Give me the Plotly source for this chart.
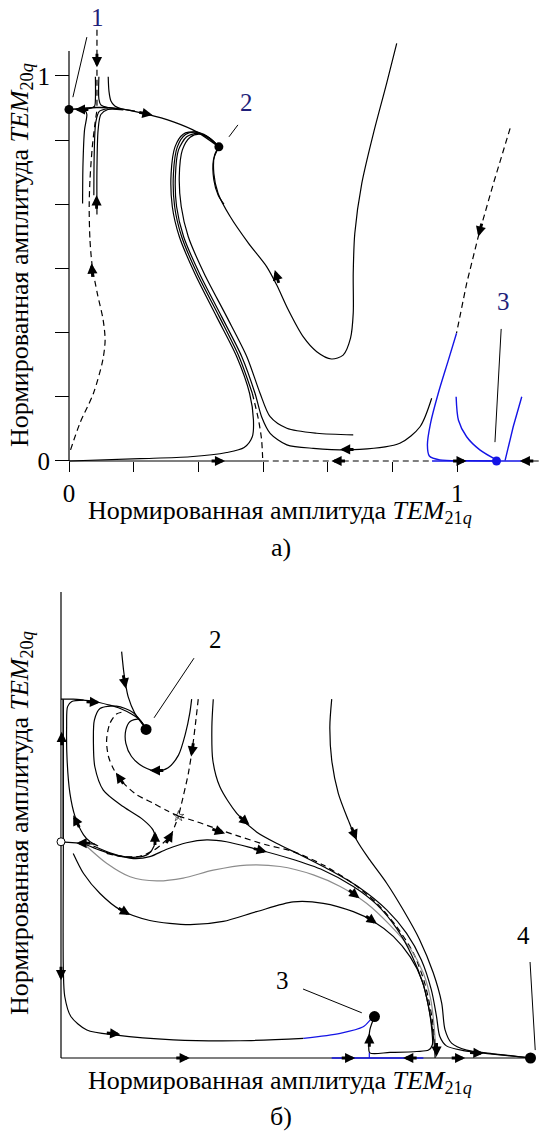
import math
import plotly.graph_objects as go

W, H = 539, 1131
FONT = "Liberation Serif, Times New Roman, serif"
BLUE = "#1414e6"
NAVY = "#1f1f7a"
GRAY = "#8c8c8c"

# ---------------- panel (а): trajectories, normalized amplitudes ----------------
a_plateau_x = [0, 0.071, 0.123, 0.2, 0.269, 0.329, 0.386]
a_plateau_y = [0.913, 0.918, 0.916, 0.901, 0.881, 0.855, 0.816]

a_sep_top_x = [0.072, 0.072, 0.072]
a_sep_top_y = [1.12, 1.0, 0.918]

a_sep_low_x = [0.004, 0.028, 0.063, 0.087, 0.093, 0.088, 0.073, 0.06, 0.054, 0.052, 0.054, 0.06, 0.067, 0.072]
a_sep_low_y = [0.029, 0.098, 0.176, 0.262, 0.314, 0.366, 0.435, 0.505, 0.574, 0.661, 0.73, 0.816, 0.877, 0.912]

a_ul_x = [0.068, 0.068, 0.066, 0.05, 0.03]
a_ul_y = [0.998, 0.94, 0.922, 0.915, 0.913]
a_ur1_x = [0.077, 0.077, 0.082, 0.1, 0.13]
a_ur1_y = [0.998, 0.94, 0.925, 0.918, 0.915]
a_ur2_x = [0.101, 0.103, 0.108, 0.118, 0.135, 0.17]
a_ur2_y = [0.998, 0.96, 0.935, 0.922, 0.915, 0.909]
a_ll_x = [0.035, 0.036, 0.04, 0.046, 0.042, 0.03]
a_ll_y = [0.669, 0.77, 0.86, 0.9, 0.909, 0.912]
a_lr1_x = [0.072, 0.072, 0.075, 0.082, 0.1, 0.14]
a_lr1_y = [0.64, 0.76, 0.86, 0.9, 0.913, 0.912]
a_lr2_x = [0.064, 0.065, 0.069, 0.078, 0.1]
a_lr2_y = [0.69, 0.8, 0.88, 0.908, 0.915]

a_c1_x = [0.386, 0.355, 0.324, 0.294, 0.273, 0.263, 0.266, 0.284, 0.324, 0.38, 0.432, 0.465, 0.475, 0.472, 0.451, 0.406, 0.312, 0.183, 0]
a_c1_y = [0.816, 0.842, 0.855, 0.849, 0.816, 0.747, 0.661, 0.583, 0.487, 0.375, 0.271, 0.176, 0.107, 0.063, 0.035, 0.022, 0.011, 0.006, 0.0]

a_sepS_x = [0.386, 0.355, 0.327, 0.3, 0.279, 0.269, 0.272, 0.29, 0.33, 0.387, 0.438, 0.472]
a_sepS_y = [0.816, 0.844, 0.854, 0.848, 0.816, 0.747, 0.661, 0.583, 0.487, 0.375, 0.271, 0.176]
a_sepS_tail_x = [0.472, 0.488, 0.496, 0.499]
a_sepS_tail_y = [0.176, 0.107, 0.055, 0.0]

a_c2_x = [0.934, 0.904, 0.852, 0.749, 0.629, 0.561, 0.518, 0.496, 0.479, 0.445, 0.393, 0.336, 0.295, 0.277, 0.274, 0.282, 0.303, 0.33, 0.359, 0.386]
a_c2_y = [0.163, 0.089, 0.046, 0.03, 0.033, 0.042, 0.072, 0.115, 0.176, 0.271, 0.375, 0.487, 0.583, 0.661, 0.739, 0.808, 0.842, 0.851, 0.84, 0.816]

a_c3_x = [0.732, 0.638, 0.561, 0.518, 0.492, 0.458, 0.406, 0.348, 0.307, 0.289, 0.284, 0.292, 0.312, 0.336, 0.363, 0.386]
a_c3_y = [0.068, 0.072, 0.085, 0.115, 0.176, 0.271, 0.375, 0.487, 0.583, 0.661, 0.739, 0.808, 0.841, 0.849, 0.838, 0.816]

a_u_x = [0.386, 0.375, 0.373, 0.384, 0.415, 0.462, 0.509, 0.535, 0.565, 0.603, 0.638, 0.676, 0.706, 0.725, 0.732, 0.732, 0.736, 0.754, 0.784, 0.818, 0.844]
a_u_y = [0.816, 0.795, 0.747, 0.695, 0.635, 0.566, 0.505, 0.457, 0.392, 0.323, 0.284, 0.265, 0.275, 0.319, 0.384, 0.487, 0.591, 0.721, 0.851, 0.981, 1.085]

a_short_x = [0.382, 0.372, 0.373, 0.384, 0.399]
a_short_y = [0.808, 0.782, 0.73, 0.691, 0.667]

a_sepR_x = [1.136, 1.093, 1.054, 1.024, 0.998]
a_sepR_y = [0.864, 0.721, 0.583, 0.461, 0.332]

a_blueL_x = [0.998, 0.977, 0.951, 0.931, 0.923, 0.928, 0.955, 1.024, 1.101]
a_blueL_y = [0.332, 0.262, 0.176, 0.098, 0.042, 0.013, 0.003, 0.001, 0.0]
a_blueM_x = [0.997, 1.003, 1.024, 1.058, 1.101]
a_blueM_y = [0.167, 0.106, 0.063, 0.029, 0.003]
a_blueR_x = [1.166, 1.144, 1.123]
a_blueR_y = [0.167, 0.089, 0.001]

# abscissa segments of panel (а)
a_axis_solid_x = [0, 0.499]
a_axis_dash_x = [0.499, 0.935]
a_axis_blue_x = [0.935, 1.166]
a_axis_end_x = [1.166, 1.21]

# equilibrium points of panel (а)
a_pts_x = [0, 0.386]
a_pts_y = [0.913, 0.816]
a_pt3 = (1.101, 0.0)

# arrows (head x, head y, direction in degrees)
a_arrows = [
    (0.015, 0.913, 180), (0.215, 0.899, -11), (0.072, 1.023, 270),
    (0.071, 0.69, 90), (0.058, 0.513, 95), (0.53, 0.496, 107),
    (0.402, 0.0, 0), (0.676, 0.0, 180), (0.698, 0.03, 180),
    (1.054, 0.583, 255), (1.024, 0.0, 0), (1.161, 0.0, 180),
]

a_ticks = [k / 6 for k in range(7)]
a_ticktext = ["0", "", "", "", "", "", "1"]

# ---------------- panel (б) ----------------
b_plateau_x = [0.0, 0.004, 0.026, 0.048, 0.072, 0.1, 0.126, 0.15, 0.168, 0.181]
b_plateau_y = [0.77, 0.77, 0.77, 0.768, 0.765, 0.758, 0.75, 0.738, 0.725, 0.706]

b_axis_gray_x = [0.0025, 0.0025]
b_axis_gray_y = [0.464, 0.77]

b_to3_x = [0.005, 0.005, 0.005, 0.008, 0.021, 0.055, 0.118, 0.239, 0.381, 0.516]
b_to3_y = [0.77, 0.464, 0.189, 0.132, 0.089, 0.06, 0.049, 0.039, 0.037, 0.042]
b_to3_blue_x = [0.516, 0.594, 0.643, 0.661, 0.667]
b_to3_blue_y = [0.042, 0.053, 0.067, 0.085, 0.089]

b_top2_x = [0.129, 0.133, 0.136, 0.143, 0.157, 0.172, 0.181]
b_top2_y = [0.872, 0.833, 0.811, 0.775, 0.74, 0.718, 0.707]

b_spiral_x = [0.278, 0.274, 0.265, 0.25, 0.228, 0.204, 0.175, 0.15, 0.138, 0.138, 0.147, 0.165, 0.181]
b_spiral_y = [0.77, 0.74, 0.697, 0.65, 0.623, 0.616, 0.625, 0.647, 0.675, 0.704, 0.722, 0.727, 0.707]

b_loop_x = [0.055, 0.08, 0.118, 0.161, 0.186, 0.198, 0.2, 0.196, 0.175, 0.133, 0.09, 0.072, 0.069, 0.071, 0.083, 0.118, 0.154, 0.181]
b_loop_y = [0.457, 0.447, 0.435, 0.431, 0.438, 0.455, 0.475, 0.489, 0.511, 0.539, 0.575, 0.625, 0.675, 0.725, 0.75, 0.755, 0.741, 0.707]

b_sepL_x = [0.25, 0.225, 0.196, 0.161, 0.133, 0.113, 0.101, 0.097, 0.104, 0.118, 0.133]
b_sepL_y = [0.519, 0.531, 0.547, 0.565, 0.59, 0.618, 0.647, 0.682, 0.718, 0.738, 0.743]

b_sepT_x = [0.292, 0.287, 0.28, 0.271, 0.26, 0.25]
b_sepT_y = [0.77, 0.725, 0.668, 0.611, 0.561, 0.519]

b_sepB_x = [0.097, 0.133, 0.168, 0.196, 0.218, 0.235, 0.243, 0.25]
b_sepB_y = [0.439, 0.432, 0.433, 0.445, 0.462, 0.481, 0.5, 0.519]

b_sepR_x = [0.25, 0.289, 0.331, 0.381, 0.438, 0.494, 0.558, 0.622, 0.672, 0.714, 0.75, 0.774, 0.789, 0.796, 0.798]
b_sepR_y = [0.519, 0.507, 0.492, 0.475, 0.457, 0.443, 0.414, 0.374, 0.332, 0.282, 0.225, 0.16, 0.089, 0.031, 0.0]

b_lineC_x = [0.026, 0.048, 0.083, 0.126, 0.189, 0.274, 0.345, 0.416, 0.494, 0.558, 0.622, 0.665, 0.707, 0.743, 0.768, 0.782, 0.789, 0.79, 0.782, 0.757, 0.7, 0.657, 0.655, 0.657, 0.667]
b_lineC_y = [0.439, 0.396, 0.353, 0.318, 0.295, 0.286, 0.293, 0.314, 0.335, 0.332, 0.314, 0.293, 0.261, 0.217, 0.167, 0.11, 0.06, 0.028, 0.017, 0.014, 0.012, 0.011, 0.031, 0.06, 0.089]

b_gray_x = [0.055, 0.097, 0.147, 0.204, 0.26, 0.324, 0.395, 0.466, 0.537, 0.594, 0.65, 0.7, 0.743, 0.771, 0.787, 0.794, 0.797, 0.798]
b_gray_y = [0.454, 0.418, 0.389, 0.38, 0.386, 0.403, 0.414, 0.411, 0.393, 0.368, 0.332, 0.285, 0.235, 0.182, 0.124, 0.067, 0.024, 0.0]

b_lineB_x = [0.069, 0.111, 0.154, 0.189, 0.225, 0.267, 0.31, 0.352, 0.409, 0.487, 0.558, 0.622, 0.672, 0.714, 0.746, 0.771, 0.786, 0.794, 0.796]
b_lineB_y = [0.455, 0.438, 0.428, 0.432, 0.448, 0.462, 0.468, 0.464, 0.45, 0.428, 0.403, 0.368, 0.329, 0.278, 0.221, 0.157, 0.089, 0.031, 0.0]

b_lineG_x = [0.324, 0.321, 0.323, 0.338, 0.374, 0.416, 0.466, 0.509, 0.571, 0.636, 0.693, 0.735, 0.767, 0.788, 0.799, 0.806, 0.82, 0.856, 0.913, 0.999]
b_lineG_y = [0.77, 0.711, 0.639, 0.582, 0.525, 0.485, 0.457, 0.436, 0.404, 0.365, 0.318, 0.268, 0.21, 0.146, 0.089, 0.046, 0.026, 0.016, 0.009, 0.0]

b_lineF_x = [0.576, 0.572, 0.576, 0.59, 0.611, 0.629, 0.657, 0.693, 0.728, 0.763, 0.792, 0.81, 0.817, 0.831, 0.863, 0.913, 0.999]
b_lineF_y = [0.77, 0.711, 0.639, 0.568, 0.511, 0.468, 0.425, 0.375, 0.318, 0.254, 0.183, 0.118, 0.061, 0.032, 0.017, 0.01, 0.0]

b_lineL_x = [0.079, 0.062, 0.048, 0.03, 0.019, 0.013, 0.012, 0.014, 0.023, 0.048]
b_lineL_y = [0.455, 0.464, 0.479, 0.518, 0.568, 0.639, 0.711, 0.754, 0.765, 0.768]

b_circ_in_x = [0.0, 0.072]
b_circ_in_y = [0.464, 0.459]

b_axis_blue_x = [0.576, 0.771]
b_up3_blue_x = [0.656, 0.656]
b_up3_blue_y = [0.0, 0.011]

b_pts_x = [0.181, 0.667, 0.999]
b_pts_y = [0.705, 0.089, 0.0]
b_saddle = (0.0, 0.464)
b_star = (0.25, 0.519)

b_arrows = [
    (0.138, 0.793, -79), (0.189, 0.617, 180), (0.2, 0.486, 90),
    (0.117, 0.612, 124), (0.277, 0.647, 261), (0.238, 0.486, 60),
    (0.349, 0.482, -19), (0.401, 0.5, -40), (0.629, 0.468, -68),
    (0.083, 0.763, -3), (0.026, 0.521, 117), (0.0015, 0.7, 90),
    (0.033, 0.461, 180), (0.0, 0.167, 270), (0.126, 0.051, -5),
    (0.147, 0.307, -30), (0.438, 0.442, -15), (0.635, 0.343, -38),
    (0.672, 0.288, -35), (0.656, 0.053, 90), (0.274, 0.0, 0),
    (0.626, 0.0, 0), (0.728, 0.0, 180), (0.86, 0.0, 0),
    (0.899, 0.01, -3), (0.799, 0.003, 270),
]

# ---------------- frames: pixel origin and scale of each panel ----------------
PA = dict(x0=69, sx=388.3, y0=461, sy=385, xr=(-0.06, 1.21), yr=(-0.05, 1.145))
PB = dict(x0=61, sx=470, y0=1058, sy=466, xr=(-0.04, 1.017), yr=(-0.03, 1.03))


def domains(p):
    xd = [(p["x0"] + p["xr"][0] * p["sx"]) / W, min(1.0, (p["x0"] + p["xr"][1] * p["sx"]) / W)]
    yd = [1 - (p["y0"] - p["yr"][0] * p["sy"]) / H, 1 - (p["y0"] - p["yr"][1] * p["sy"]) / H]
    return xd, yd


fig = go.Figure()


def line(xs, ys, ax, color="black", width=1.2, dash=None, spline=True):
    xa, ya = ("x", "y") if ax == "a" else ("x2", "y2")
    fig.add_trace(go.Scatter(
        x=xs, y=ys, xaxis=xa, yaxis=ya, mode="lines",
        line=dict(color=color, width=width, dash=dash,
                  shape="spline" if spline and len(xs) > 2 else "linear", smoothing=0.8),
        hoverinfo="skip", showlegend=False))


def dots(xs, ys, ax, color="black", size=9, fill=None, lw=0):
    xa, ya = ("x", "y") if ax == "a" else ("x2", "y2")
    fig.add_trace(go.Scatter(
        x=xs, y=ys, xaxis=xa, yaxis=ya, mode="markers", cliponaxis=False,
        marker=dict(color=fill or color, size=size, line=dict(color=color, width=lw)),
        hoverinfo="skip", showlegend=False))


annotations = []


def arrow(x, y, ang, ax, length=15):
    xa, ya = ("x", "y") if ax == "a" else ("x2", "y2")
    r = math.radians(ang)
    annotations.append(dict(
        x=x, y=y, xref=xa, yref=ya, text="", showarrow=True,
        ax=-length * math.cos(r), ay=length * math.sin(r), axref="pixel", ayref="pixel",
        arrowhead=2, arrowsize=0.7, arrowwidth=2.9, arrowcolor="black", standoff=0))


DASH = "6px,4px"

# ----- panel (а) -----
line([0, 0], [0, 1.065], "a", spline=False)
line(a_axis_solid_x, [0, 0], "a", spline=False)
line(a_axis_dash_x, [0, 0], "a", dash=DASH, spline=False)
line(a_axis_blue_x, [0, 0], "a", color=BLUE, width=1.5, spline=False)
line(a_axis_end_x, [0, 0], "a", spline=False)

line(a_plateau_x, a_plateau_y, "a", width=1.4)
line(a_sep_top_x, a_sep_top_y, "a", dash=DASH, spline=False)
line(a_sep_low_x, a_sep_low_y, "a", dash=DASH)
for xs, ys in [(a_ul_x, a_ul_y), (a_ur1_x, a_ur1_y), (a_ur2_x, a_ur2_y),
               (a_ll_x, a_ll_y), (a_lr1_x, a_lr1_y), (a_lr2_x, a_lr2_y)]:
    line(xs, ys, "a")
line(a_c1_x, a_c1_y, "a")
line(a_sepS_x, a_sepS_y, "a")
line(a_sepS_tail_x, a_sepS_tail_y, "a", dash=DASH)
line(a_c2_x, a_c2_y, "a")
line(a_c3_x, a_c3_y, "a")
line(a_u_x, a_u_y, "a")
line(a_short_x, a_short_y, "a")
line(a_sepR_x, a_sepR_y, "a", dash=DASH, spline=False)
line(a_blueL_x, a_blueL_y, "a", color=BLUE, width=1.4)
line(a_blueM_x, a_blueM_y, "a", color=BLUE, width=1.4)
line(a_blueR_x, a_blueR_y, "a", color=BLUE, width=1.4, spline=False)

# leader lines of panel (а)
line([0.046, 0.01], [1.101, 0.945], "a", width=1, spline=False)
line([0.435, 0.412], [0.873, 0.842], "a", width=1, spline=False)
line([1.113, 1.097], [0.343, 0.049], "a", width=1, spline=False)

dots(a_pts_x, a_pts_y, "a", size=9)
dots([a_pt3[0]], [a_pt3[1]], "a", color=BLUE, size=9)

for xh, yh, ang in a_arrows:
    arrow(xh, yh, ang, "a")

# point labels of panel (а); label 1 sits above the plotting area, so it uses paper units
annotations.append(dict(x=97 / W, y=1 - 18 / H, xref="paper", yref="paper", text="1",
                        xanchor="center", yanchor="middle",
                        showarrow=False, font=dict(family=FONT, size=25, color=NAVY)))
for txt, x, y in [("2", 0.458, 0.93), ("3", 1.118, 0.413)]:
    annotations.append(dict(x=x, y=y, xref="x", yref="y", text=txt, showarrow=False,
                            xanchor="center", yanchor="middle",
                            font=dict(family=FONT, size=25, color=NAVY)))

# ----- panel (б) -----
line([0, 0], [0, 1.0], "b", spline=False)
line([0, 0.999], [0, 0], "b", spline=False)
line(b_axis_blue_x, [0, 0], "b", color=BLUE, width=1.4, spline=False)
line(b_axis_gray_x, b_axis_gray_y, "b", color=GRAY, width=2.2, spline=False)

line(b_plateau_x, b_plateau_y, "b")
line(b_to3_x, b_to3_y, "b")
line(b_to3_blue_x, b_to3_blue_y, "b", color=BLUE)
line(b_top2_x, b_top2_y, "b")
line(b_spiral_x, b_spiral_y, "b")
line(b_loop_x, b_loop_y, "b")
line(b_sepL_x, b_sepL_y, "b", dash=DASH)
line(b_sepT_x, b_sepT_y, "b", dash=DASH)
line(b_sepB_x, b_sepB_y, "b", dash=DASH)
line(b_sepR_x, b_sepR_y, "b", dash=DASH)
line(b_gray_x, b_gray_y, "b", color=GRAY)
line(b_lineC_x, b_lineC_y, "b")
line(b_lineB_x, b_lineB_y, "b")
line(b_lineG_x, b_lineG_y, "b")
line(b_lineF_x, b_lineF_y, "b")
line(b_lineL_x, b_lineL_y, "b")
line(b_circ_in_x, b_circ_in_y, "b", spline=False)
line(b_up3_blue_x, b_up3_blue_y, "b", color=BLUE, spline=False)

# leader lines of panel (б)
line([0.283, 0.198], [0.858, 0.73], "b", width=1, spline=False)
line([0.515, 0.64], [0.148, 0.097], "b", width=1, spline=False)
line([0.998, 1.009], [0.206, 0.017], "b", width=1, spline=False)

dots(b_pts_x, b_pts_y, "b", size=11)
dots([b_saddle[0]], [b_saddle[1]], "b", size=8, fill="white", lw=1)
fig.add_trace(go.Scatter(x=[b_star[0]], y=[b_star[1]], xaxis="x2", yaxis="y2", mode="markers",
                         marker=dict(symbol="star-open", size=8, color="black", line=dict(width=0.6)),
                         hoverinfo="skip", showlegend=False))

for xh, yh, ang in b_arrows:
    arrow(xh, yh, ang, "b")

for txt, x, y in [("2", 0.328, 0.899), ("3", 0.472, 0.167), ("4", 0.983, 0.262)]:
    annotations.append(dict(x=x, y=y, xref="x2", yref="y2", text=txt, showarrow=False,
                            xanchor="center", yanchor="middle",
                            font=dict(family=FONT, size=25, color="black")))

# ----- axis titles and panel captions -----
XT = "Нормированная амплитуда <i>TEM</i><sub>21<i>q</i></sub>"
YT = "Нормированная амплитуда <i>TEM</i><sub>20<i>q</i></sub>"
for txt, x, y, ang in [(XT, 0.52, 1 - 512 / H, 0), ("а)", 0.522, 1 - 547 / H, 0),
                       (YT, 21 / W, 1 - 255 / H, -90),
                       (XT, 0.52, 1 - 1082 / H, 0), ("б)", 0.522, 1 - 1116 / H, 0),
                       (YT, 21 / W, 1 - 823 / H, -90)]:
    annotations.append(dict(x=x, y=y, xref="paper", yref="paper", text=txt, showarrow=False,
                            textangle=ang, xanchor="center", yanchor="middle",
                            font=dict(family=FONT, size=26, color="black")))

xa_dom, ya_dom = domains(PA)
xb_dom, yb_dom = domains(PB)

common = dict(showgrid=False, zeroline=False, showline=False, fixedrange=True)
fig.update_layout(
    width=W, height=H, margin=dict(l=0, r=0, t=0, b=0),
    paper_bgcolor="white", plot_bgcolor="white",
    font=dict(family=FONT, color="black"),
    xaxis=dict(domain=xa_dom, range=list(PA["xr"]), anchor="free", position=1 - PA["y0"] / H,
               tickmode="array", tickvals=a_ticks, ticktext=a_ticktext, ticks="outside",
               ticklen=10, tickwidth=1, tickcolor="black",
               tickfont=dict(family=FONT, size=25, color="black"), **common),
    yaxis=dict(domain=ya_dom, range=list(PA["yr"]), anchor="free", position=PA["x0"] / W,
               tickmode="array", tickvals=a_ticks, ticktext=a_ticktext, ticks="outside",
               ticklen=14, tickwidth=1, tickcolor="black",
               tickfont=dict(family=FONT, size=25, color="black"), **common),
    xaxis2=dict(domain=xb_dom, range=list(PB["xr"]), anchor="y2", showticklabels=False, **common),
    yaxis2=dict(domain=yb_dom, range=list(PB["yr"]), anchor="x2", showticklabels=False, **common),
    annotations=annotations,
)

fig.write_html("out.html")
